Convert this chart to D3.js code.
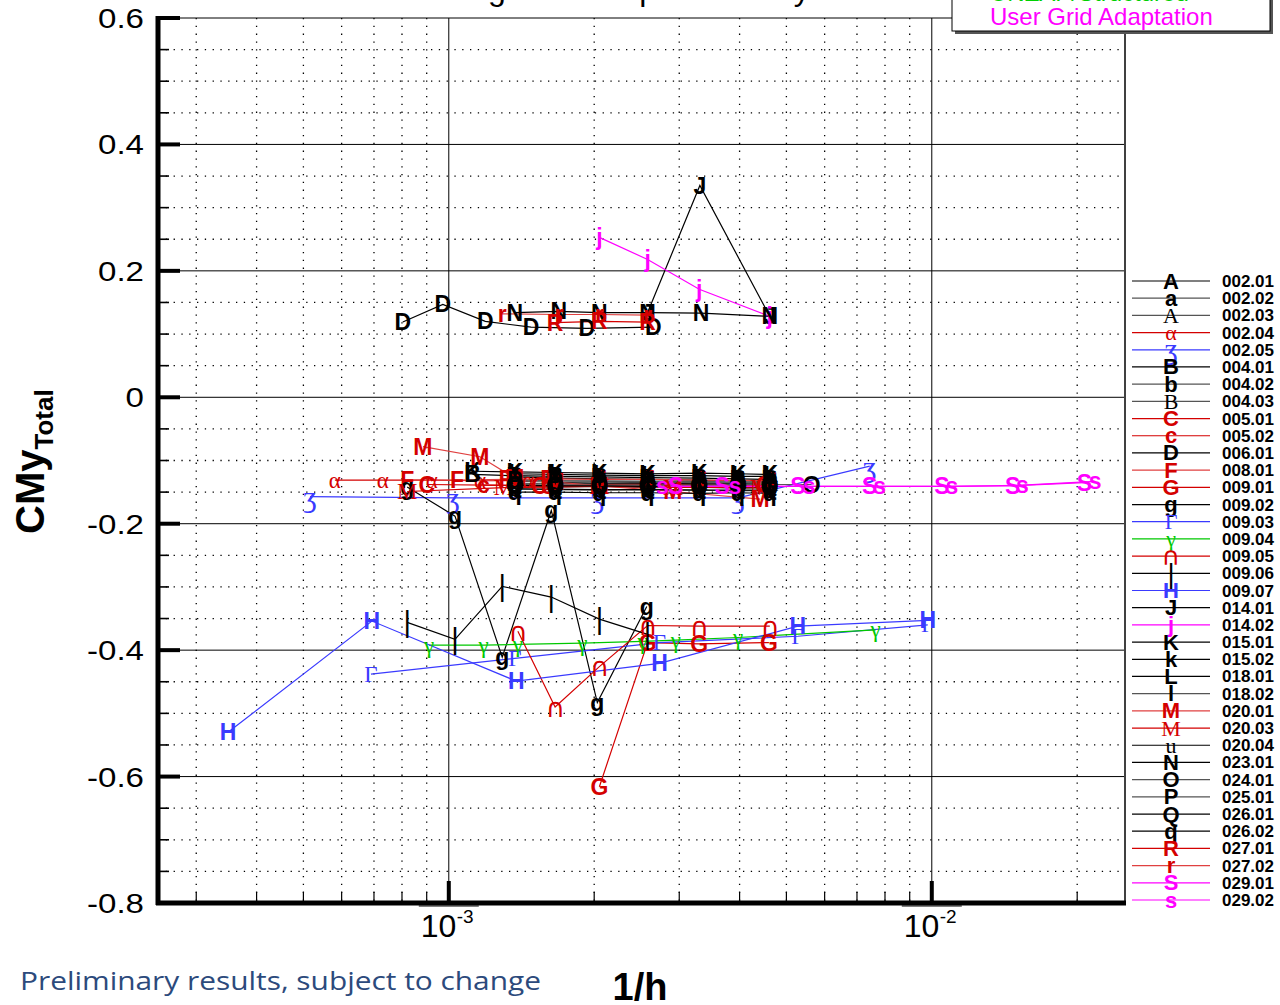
<!DOCTYPE html>
<html><head><meta charset="utf-8">
<script src="https://cdn.jsdelivr.net/npm/d3@7"></script>
<style>body{margin:0;background:#fff}svg{display:block}</style>
</head><body>
<svg id="chart" width="1280" height="1005"></svg>
<script>
// ---- axis definitions ----
const xDomain = [2.5e-4, 2.5e-2];
const yDomain = [-0.8, 0.6];
const yMajorTicks = [-0.8, -0.6, -0.4, -0.2, 0, 0.2, 0.4, 0.6];
const yTickLabels = ["-0.8", "-0.6", "-0.4", "-0.2", "0", "0.2", "0.4", "0.6"];
const xMajorTicks = [1e-3, 1e-2];
const xTickExponents = ["-3", "-2"];

// ---- series: [1/h, CMy_Total] ----
const s002_01 = [[1.37e-3,-0.126],[1.66e-3,-0.128],[2.05e-3,-0.129],[2.58e-3,-0.130],[3.30e-3,-0.131],[3.97e-3,-0.132],[4.62e-3,-0.133]];
const s002_02 = [[1.37e-3,-0.140],[1.66e-3,-0.142],[2.05e-3,-0.141],[2.58e-3,-0.143],[3.30e-3,-0.142],[3.97e-3,-0.144],[4.62e-3,-0.143]];
const s002_03 = [[1.37e-3,-0.133],[1.66e-3,-0.134],[2.05e-3,-0.134],[2.58e-3,-0.135],[3.30e-3,-0.135],[4.62e-3,-0.136]];
const s002_04 = [[5.81e-4,-0.131],[7.30e-4,-0.131],[9.22e-4,-0.131],[1.16e-3,-0.132],[1.46e-3,-0.132]];
const s002_05 = [[5.16e-4,-0.157],[1.02e-3,-0.159],[2.03e-3,-0.159],[3.97e-3,-0.159],[7.44e-3,-0.109]];
const s004_01 = [[1.12e-3,-0.122],[1.37e-3,-0.124],[1.66e-3,-0.125],[2.05e-3,-0.126],[2.58e-3,-0.127],[3.30e-3,-0.128],[3.97e-3,-0.129],[4.62e-3,-0.130]];
const s004_02 = [[1.37e-3,-0.145],[1.66e-3,-0.146],[2.05e-3,-0.147],[2.58e-3,-0.146],[3.30e-3,-0.147],[3.97e-3,-0.148],[4.62e-3,-0.147]];
const s004_03 = [[1.37e-3,-0.136],[1.66e-3,-0.137],[2.05e-3,-0.137],[2.58e-3,-0.138],[3.30e-3,-0.138],[4.62e-3,-0.139]];
const s005_01 = [[9.00e-4,-0.138],[1.54e-3,-0.140],[2.05e-3,-0.138],[2.58e-3,-0.137],[4.50e-3,-0.139]];
const s005_02 = [[1.18e-3,-0.139],[1.60e-3,-0.140],[2.05e-3,-0.141],[2.58e-3,-0.141],[3.30e-3,-0.142],[4.60e-3,-0.140]];
const s006_01 = [[8.03e-4,0.119],[9.72e-4,0.147],[1.19e-3,0.120],[1.48e-3,0.111],[1.93e-3,0.109],[2.65e-3,0.111]];
const s008_01 = [[8.20e-4,-0.131],[1.04e-3,-0.131],[1.31e-3,-0.130],[1.60e-3,-0.129],[2.05e-3,-0.130],[2.58e-3,-0.130],[3.30e-3,-0.131],[4.60e-3,-0.132]];
const s009_01 = [[2.05e-3,-0.616],[2.58e-3,-0.388],[3.30e-3,-0.390],[4.60e-3,-0.388]];
const s009_02 = [[8.20e-4,-0.142],[1.03e-3,-0.188],[1.29e-3,-0.411],[1.63e-3,-0.179],[2.03e-3,-0.483],[2.57e-3,-0.331]];
const s009_03 = [[6.90e-4,-0.438],[1.37e-3,-0.413],[2.73e-3,-0.388],[5.28e-3,-0.378],[9.81e-3,-0.360]];
const s009_04 = [[9.10e-4,-0.392],[1.18e-3,-0.392],[1.39e-3,-0.391],[1.89e-3,-0.389],[2.52e-3,-0.386],[2.95e-3,-0.384],[3.97e-3,-0.380],[7.65e-3,-0.368]];
const s009_05 = [[1.39e-3,-0.370],[1.66e-3,-0.490],[2.05e-3,-0.426],[2.58e-3,-0.361],[3.30e-3,-0.362],[4.62e-3,-0.362]];
const s009_06 = [[8.20e-4,-0.356],[1.03e-3,-0.383],[1.29e-3,-0.299],[1.63e-3,-0.316],[2.05e-3,-0.351],[2.58e-3,-0.375]];
const s009_07 = [[3.49e-4,-0.530],[6.93e-4,-0.354],[1.38e-3,-0.449],[2.73e-3,-0.421],[5.28e-3,-0.362],[9.81e-3,-0.353]];
const s014_01 = [[2.58e-3,0.134],[3.31e-3,0.335],[4.62e-3,0.128]];
const s014_02 = [[2.05e-3,0.253],[2.58e-3,0.218],[3.30e-3,0.171],[4.62e-3,0.128]];
const s015_01 = [[1.12e-3,-0.117],[1.37e-3,-0.118],[1.66e-3,-0.119],[2.05e-3,-0.120],[2.58e-3,-0.121],[3.30e-3,-0.120],[3.97e-3,-0.121],[4.62e-3,-0.122]];
const s015_02 = [[1.37e-3,-0.121],[1.66e-3,-0.122],[2.05e-3,-0.123],[2.58e-3,-0.124],[3.30e-3,-0.124],[3.97e-3,-0.125],[4.62e-3,-0.125]];
const s018_01 = [[1.66e-3,-0.135],[2.05e-3,-0.136],[2.58e-3,-0.136],[3.30e-3,-0.137],[3.97e-3,-0.137],[4.62e-3,-0.138]];
const s018_02 = [[1.66e-3,-0.132],[2.05e-3,-0.133],[2.58e-3,-0.133],[3.30e-3,-0.134],[3.97e-3,-0.134],[4.62e-3,-0.135]];
const s020_01 = [[8.84e-4,-0.078],[1.16e-3,-0.094],[1.37e-3,-0.128],[1.66e-3,-0.134],[2.05e-3,-0.140],[2.91e-3,-0.149],[4.41e-3,-0.161]];
const s020_03 = [[8.20e-4,-0.149],[1.30e-3,-0.143],[2.05e-3,-0.141],[2.91e-3,-0.142],[4.41e-3,-0.143]];
const s020_04 = [[1.37e-3,-0.145],[2.05e-3,-0.146],[2.58e-3,-0.146],[3.30e-3,-0.147],[4.62e-3,-0.147]];
const s023_01 = [[1.37e-3,0.134],[1.69e-3,0.136],[2.05e-3,0.134],[2.58e-3,0.134],[3.33e-3,0.133],[4.62e-3,0.128]];
const s024_01 = [[1.37e-3,-0.138],[1.66e-3,-0.139],[2.05e-3,-0.139],[2.58e-3,-0.139],[3.30e-3,-0.139],[3.97e-3,-0.138],[4.62e-3,-0.138],[5.64e-3,-0.138]];
const s025_01 = [[1.37e-3,-0.131],[1.66e-3,-0.132],[2.05e-3,-0.132],[2.58e-3,-0.133],[3.30e-3,-0.133],[3.97e-3,-0.134],[4.62e-3,-0.134]];
const s026_01 = [[1.37e-3,-0.139],[1.66e-3,-0.140],[2.05e-3,-0.140],[2.58e-3,-0.141],[3.30e-3,-0.141],[3.97e-3,-0.141],[4.62e-3,-0.142]];
const s026_02 = [[1.37e-3,-0.150],[1.66e-3,-0.150],[2.05e-3,-0.151],[2.58e-3,-0.151],[3.30e-3,-0.152],[3.97e-3,-0.151],[4.62e-3,-0.152]];
const s027_01 = [[1.66e-3,0.118],[2.05e-3,0.120],[2.58e-3,0.119]];
const s027_02 = [[1.29e-3,0.132],[1.69e-3,0.131],[2.05e-3,0.131],[2.58e-3,0.130]];
const s029_01 = [[2.95e-3,-0.141],[3.68e-3,-0.141],[5.28e-3,-0.141],[7.44e-3,-0.141],[1.05e-2,-0.141],[1.47e-2,-0.140],[2.07e-2,-0.135]];
const s029_02 = [[2.77e-3,-0.141],[3.91e-3,-0.141],[5.57e-3,-0.141],[7.80e-3,-0.141],[1.10e-2,-0.141],[1.54e-2,-0.139],[2.18e-2,-0.133]];

const seriesNames = ["002.01","002.02","002.03","002.04","002.05","004.01","004.02","004.03","005.01","005.02","006.01","008.01","009.01","009.02","009.03","009.04","009.05","009.06","009.07","014.01","014.02","015.01","015.02","018.01","018.02","020.01","020.03","020.04","023.01","024.01","025.01","026.01","026.02","027.01","027.02","029.01","029.02"];
const seriesValues = [s002_01,s002_02,s002_03,s002_04,s002_05,s004_01,s004_02,s004_03,s005_01,s005_02,s006_01,s008_01,s009_01,s009_02,s009_03,s009_04,s009_05,s009_06,s009_07,s014_01,s014_02,s015_01,s015_02,s018_01,s018_02,s020_01,s020_03,s020_04,s023_01,s024_01,s025_01,s026_01,s026_02,s027_01,s027_02,s029_01,s029_02];
const seriesSymbols = ["A","a","A","α","ʒ","B","b","B","C","c","D","F","G","g","Γ","γ","∩","|","H","J","j","K","k","L","l","M","M","u","N","O","P","Q","q","R","r","S","s"];

// ---- styles ----
const C = {k:"#000000", r:"#d40000", b:"#3a3aff", g:"#00c800", m:"#ff00ff"};
const SANS = "'Liberation Sans', Arial, Helvetica, sans-serif";
const SERIF = "'Liberation Serif', 'DejaVu Serif', serif";
const DJV = "'DejaVu Sans', sans-serif";
// per series: colour key, font kind (0 bold sans, 1 serif, 2 symbol, 3 plain sans), line colour override, size factor
const seriesStyle = [
  ["k",0],["k",0,"#555"],["k",1,"#555"],["r",1],["b",1,null,1.3],["k",0],["k",0,"#555"],["k",1,"#555"],
  ["r",0],["r",0],["k",0],["r",0,"#e04040"],["r",0],["k",0],["b",1],["g",1],["r",2,null,1.15],["k",3,null,1.25],["b",0],
  ["k",0],["m",0],["k",0],["k",0],["k",0],["k",0,"#555"],["r",0,"#e04040"],["r",1],["k",1],["k",0],
  ["k",0,"#555"],["k",0,"#555"],["k",0],["k",0],["r",0],["r",0,"#e04040"],["m",0],["m",0]
];

const svg = d3.select("#chart");
const L = 158, R = 1124, T = 18, B = 903;
const x = d3.scaleLog().domain(xDomain).range([L, R]);
const y = d3.scaleLinear().domain(yDomain).range([B, T]);

// ---- grid ----
const grid = svg.append("g");
const yMinor = d3.range(-0.8, 0.6001, 0.05).filter(v => Math.abs(Math.round(v*5) - v*5) > 1e-6);
grid.selectAll("line.ym").data(yMinor).join("line")
  .attr("x1", L).attr("x2", R).attr("y1", d => y(d)).attr("y2", d => y(d))
  .attr("stroke", "#000").attr("stroke-width", 1.3).attr("stroke-dasharray", "1.3,6.5");
const xMinor = x.ticks().filter(v => !xMajorTicks.some(t => Math.abs(t - v) / t < 1e-6));
grid.selectAll("line.xm").data(xMinor).join("line")
  .attr("x1", d => x(d)).attr("x2", d => x(d)).attr("y1", T).attr("y2", B)
  .attr("stroke", "#000").attr("stroke-width", 1.3).attr("stroke-dasharray", "1.3,6.5");
grid.selectAll("line.yM").data(yMajorTicks).join("line")
  .attr("x1", L).attr("x2", R).attr("y1", d => y(d)).attr("y2", d => y(d))
  .attr("stroke", "#000").attr("stroke-width", 1);
grid.selectAll("line.xM").data(xMajorTicks).join("line")
  .attr("x1", d => x(d)).attr("x2", d => x(d)).attr("y1", T).attr("y2", B)
  .attr("stroke", "#000").attr("stroke-width", 1);
svg.append("line").attr("x1", R + 1).attr("x2", R + 1).attr("y1", T).attr("y2", B).attr("stroke", "#000").attr("stroke-width", 1.5);

// ---- axes ----
const ax = svg.append("g");
ax.append("line").attr("x1", L).attr("x2", L).attr("y1", T - 2).attr("y2", B + 2).attr("stroke", "#000").attr("stroke-width", 5);
ax.append("line").attr("x1", L - 2).attr("x2", R + 2).attr("y1", B).attr("y2", B).attr("stroke", "#000").attr("stroke-width", 5);
ax.selectAll("line.ytm").data(yMajorTicks).join("line")
  .attr("x1", L).attr("x2", L + 22).attr("y1", d => y(d)).attr("y2", d => y(d))
  .attr("stroke", "#000").attr("stroke-width", 4);
ax.selectAll("line.ytn").data(yMinor).join("line")
  .attr("x1", L).attr("x2", L + 11).attr("y1", d => y(d)).attr("y2", d => y(d))
  .attr("stroke", "#000").attr("stroke-width", 1.6);
ax.selectAll("line.xtm").data(xMajorTicks).join("line")
  .attr("x1", d => x(d)).attr("x2", d => x(d)).attr("y1", B).attr("y2", B - 22)
  .attr("stroke", "#000").attr("stroke-width", 4);
ax.selectAll("line.xtn").data(xMinor).join("line")
  .attr("x1", d => x(d)).attr("x2", d => x(d)).attr("y1", B).attr("y2", B - 11)
  .attr("stroke", "#000").attr("stroke-width", 1.2);

const yl = ax.selectAll("text.yl").data(yMajorTicks).join("text")
  .attr("x", L - 14).attr("y", d => y(d) + 10).attr("text-anchor", "end")
  .attr("font-family", SANS).attr("font-size", 28).text((d, i) => yTickLabels[i]);
yl.each(function () { const w = this.getComputedTextLength(); d3.select(this).attr("textLength", w * 1.18).attr("lengthAdjust", "spacingAndGlyphs"); });

const xl = ax.selectAll("g.xl").data(xMajorTicks).join("g")
  .attr("transform", d => `translate(${x(d)},937)`);
xl.append("text").attr("x", -28).attr("font-family", SANS).attr("font-size", 32).text("10");
xl.append("text").attr("x", 8).attr("y", -14).attr("font-family", SANS).attr("font-size", 19).text((d, i) => xTickExponents[i]);
xl.append("line").attr("x1", -30).attr("x2", 30).attr("y1", -31).attr("y2", -31).attr("stroke", "#000").attr("stroke-width", 1);

// axis titles
svg.append("text").attr("x", 640).attr("y", 1000).attr("text-anchor", "middle")
  .attr("font-family", SANS).attr("font-weight", "bold").attr("font-size", 38).text("1/h");
const yt = svg.append("text").attr("transform", "translate(44,534) rotate(-90)")
  .attr("font-family", SANS).attr("font-weight", "bold").attr("font-size", 40);
yt.append("tspan").text("CMy");
yt.append("tspan").attr("font-size", 26).attr("dy", 9).text("Total");

// ---- series lines and symbols ----
const line = d3.line().x(d => x(d[0])).y(d => y(d[1]));
const plot = svg.append("g");
seriesValues.forEach((vals, i) => {
  const st = seriesStyle[i];
  plot.append("path").attr("d", line(vals)).attr("fill", "none")
    .attr("stroke", st[2] || C[st[0]]).attr("stroke-width", 1.2);
});
const FAM = [SANS, SERIF, DJV, SANS];
const WGT = ["bold", "normal", "normal", "normal"];
function symbol(g, i, px, py, size) {
  const st = seriesStyle[i];
  return g.append("text").attr("x", px).attr("y", py)
    .attr("text-anchor", "middle").attr("dominant-baseline", "central")
    .attr("font-family", FAM[st[1]]).attr("font-weight", WGT[st[1]])
    .attr("font-size", size * (st[3] || 1)).attr("fill", C[st[0]]).text(seriesSymbols[i]);
}
seriesValues.forEach((vals, i) => {
  vals.forEach(d => symbol(plot, i, x(d[0]), y(d[1]), 23));
});

// ---- legend ----
const lg = svg.append("g");
const legTop = 281, legStep = (900 - 281) / 36;
seriesNames.forEach((name, i) => {
  const st = seriesStyle[i];
  const ly = legTop + i * legStep;
  lg.append("line").attr("x1", 1132).attr("x2", 1210).attr("y1", ly).attr("y2", ly)
    .attr("stroke", st[2] || C[st[0]]).attr("stroke-width", 1.2);
  symbol(lg, i, 1171, ly, 22);
  lg.append("text").attr("x", 1222).attr("y", ly + 6).attr("font-family", SANS)
    .attr("font-weight", "bold").attr("font-size", 17).text(name);
});

// ---- method box ----
svg.append("rect").attr("x", 955).attr("y", -12).attr("width", 318).attr("height", 46).attr("fill", "#555");
svg.append("rect").attr("x", 952).attr("y", -15).attr("width", 318).attr("height", 46).attr("fill", "#fff").attr("stroke", "#000").attr("stroke-width", 1);
svg.append("text").attr("x", 990).attr("y", 1).attr("font-family", SANS).attr("font-size", 24).attr("fill", "#00d000").text("UNZAP/Structured");
svg.append("text").attr("x", 990).attr("y", 25).attr("font-family", SANS).attr("font-size", 24).attr("fill", "#ff00ff").text("User Grid Adaptation");

// ---- title (runs off the top edge) ----
svg.append("text").attr("x", 640).attr("y", 0).attr("text-anchor", "middle")
  .attr("font-family", SANS).attr("font-size", 32).text("Lg Grid Adaptation CMy");

// ---- footer ----
svg.append("text").attr("x", 20).attr("y", 990).attr("font-family", "'Open Sans', sans-serif")
  .attr("font-size", 26).attr("fill", "#2c4a7c").attr("textLength", 521).attr("lengthAdjust", "spacingAndGlyphs")
  .text("Preliminary results, subject to change");
</script>
</body></html>
